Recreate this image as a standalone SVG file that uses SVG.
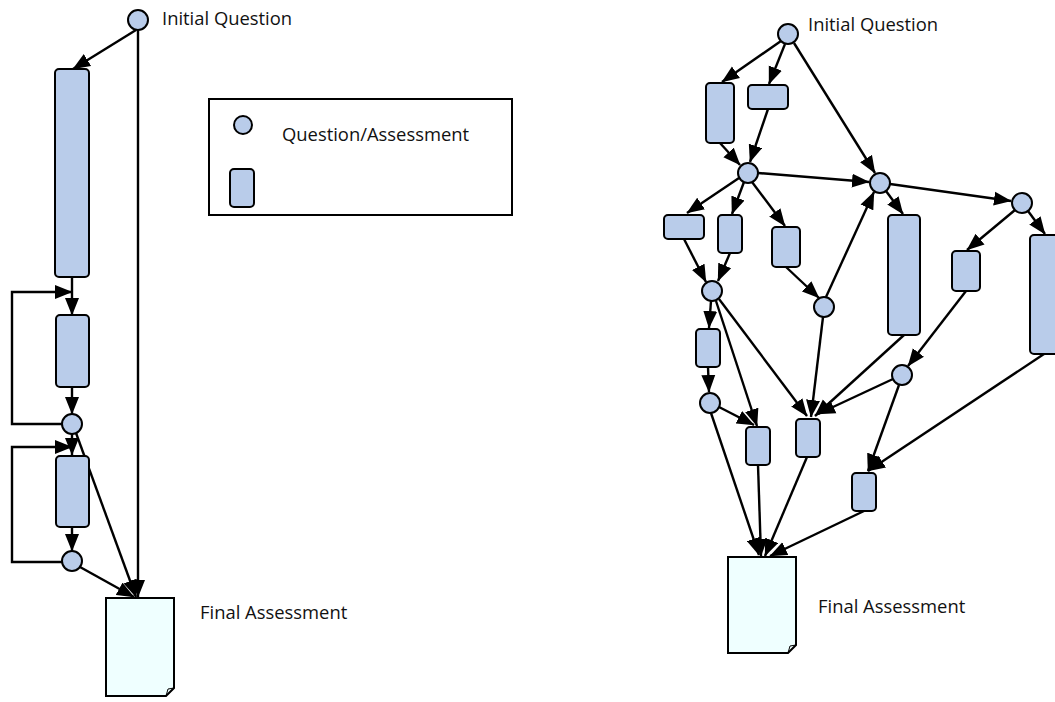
<svg xmlns="http://www.w3.org/2000/svg" width="1055" height="702" viewBox="0 0 1055 702">
<defs>
<marker id="ah" markerUnits="userSpaceOnUse" markerWidth="18" markerHeight="15" refX="17" refY="7.5" orient="auto" viewBox="0 0 18 15">
<path d="M0,0.5 L17.5,7.5 L0,14.5 z" fill="#000"/>
</marker>
<style>
.n{fill:#B9CCEA;stroke:#000;stroke-width:2}
.doc{fill:#EFFFFF;stroke:#000;stroke-width:2}
.e{fill:none;stroke:#000;stroke-width:2.4;marker-end:url(#ah)}
.l{fill:none;stroke:#000;stroke-width:1}
.t{font-family:"Open Sans","Liberation Sans",sans-serif;font-size:18.4px;fill:#111}
</style>
</defs>
<rect width="1055" height="702" fill="#fff"/>

<g id="legend">
<rect x="209" y="99" width="303" height="116" fill="#fff" stroke="#000" stroke-width="2"/>
<circle class="n" cx="243" cy="125" r="9"/>
<rect class="n" x="230" y="169" width="24" height="38" rx="4"/>
<text class="t" x="282" y="141">Question/Assessment</text>
</g>

<g id="connectors">
<path class="e" d="M136,30 L73,69"/>
<path class="e" d="M138,30 V597"/>
<path class="e" d="M72,277 V315"/>
<path class="e" d="M62,424 H12 V292 H72"/>
<path class="e" d="M72,387 V414"/>
<path class="e" d="M72,434 V455"/>
<path class="e" d="M62,562 H12 V447 H72"/>
<path class="e" d="M72,527 V551"/>
<path class="e" d="M76,433 L136,597"/>
<path class="e" d="M80,567 L134,597"/>

<path class="e" d="M781,41 L722,82"/>
<path class="e" d="M785,44 L769,84"/>
<path class="e" d="M794,43 L875,173"/>
<path class="e" d="M720,143 L740,165"/>
<path class="e" d="M768,109 L750,162"/>
<path class="e" d="M758,173 L869,182"/>
<path class="e" d="M886,191 L903,214"/>
<path class="e" d="M890,184 L1011,201"/>
<path class="e" d="M1015,210 L967,250"/>
<path class="e" d="M1028,211 L1045,234"/>
<path class="e" d="M739,178 L687,213"/>
<path class="e" d="M744,182 L732,214"/>
<path class="e" d="M752,182 L785,226"/>
<path class="e" d="M684,239 L706,282"/>
<path class="e" d="M730,253 L718,281"/>
<path class="e" d="M786,267 L819,298"/>
<path class="e" d="M826,297 L874,192"/>
<path class="e" d="M711,301 L709,328"/>
<path class="e" d="M708,367 L709,392"/>
<path class="e" d="M716,301 L757,426"/>
<path class="e" d="M719,299 L807,416"/>
<path class="e" d="M823,317 L811,417"/>
<path class="e" d="M904,335 L815,416"/>
<path class="e" d="M893,379 L818,414"/>
<path class="e" d="M966,291 L908,366"/>
<path class="e" d="M719,407 L754,425"/>
<path class="e" d="M711,413 L759,555"/>
<path class="e" d="M758,465 L761,556"/>
<path class="e" d="M807,457 L765,556"/>
<path class="e" d="M864,511 L770,556"/>
<path class="e" d="M1044,354 L868,471"/>
<path class="e" d="M899,385 L868,471"/>
</g>

<g id="left-initial"><circle class="n" cx="138" cy="20" r="10"/><text class="t" x="162" y="25">Initial Question</text></g>
<g id="left-r1"><rect class="n" x="55" y="69" width="34" height="208" rx="4"/></g>
<g id="left-r2"><rect class="n" x="56" y="315" width="33" height="72" rx="4"/></g>
<g id="left-q1"><circle class="n" cx="72" cy="424" r="10"/></g>
<g id="left-r3"><rect class="n" x="56" y="456" width="33" height="71" rx="4"/></g>
<g id="left-q2"><circle class="n" cx="72" cy="561" r="10"/></g>
<g id="left-final">
<path class="doc" d="M106,598 H174 V688 L166,696 H106 Z"/>
<path class="l" d="M174,688 L168,689 L166,696"/>
<text class="t" x="200" y="619">Final Assessment</text>
</g>

<g id="r-initial"><circle class="n" cx="788" cy="34" r="10"/><text class="t" x="808" y="31">Initial Question</text></g>
<g id="r-a"><rect class="n" x="706" y="83" width="28" height="60" rx="4"/></g>
<g id="r-b"><rect class="n" x="748" y="85" width="40" height="24" rx="4"/></g>
<g id="r-c1"><circle class="n" cx="748" cy="173" r="10"/></g>
<g id="r-c2"><circle class="n" cx="880" cy="183" r="10"/></g>
<g id="r-c3"><circle class="n" cx="1022" cy="203" r="10"/></g>
<g id="r-d"><rect class="n" x="664" y="215" width="40" height="24" rx="4"/></g>
<g id="r-e"><rect class="n" x="718" y="215" width="24" height="38" rx="4"/></g>
<g id="r-f"><rect class="n" x="772" y="227" width="28" height="40" rx="4"/></g>
<g id="r-c4"><circle class="n" cx="824" cy="307" r="10"/></g>
<g id="r-g"><rect class="n" x="888" y="215" width="32" height="120" rx="4"/></g>
<g id="r-h"><rect class="n" x="952" y="251" width="28" height="40" rx="4"/></g>
<g id="r-i"><rect class="n" x="1030" y="235" width="32" height="119" rx="4"/></g>
<g id="r-c5"><circle class="n" cx="712" cy="291" r="10"/></g>
<g id="r-j"><rect class="n" x="696" y="329" width="24" height="38" rx="4"/></g>
<g id="r-c6"><circle class="n" cx="710" cy="403" r="10"/></g>
<g id="r-k"><rect class="n" x="746" y="427" width="24" height="38" rx="4"/></g>
<g id="r-l"><rect class="n" x="796" y="419" width="24" height="38" rx="4"/></g>
<g id="r-c7"><circle class="n" cx="902" cy="375" r="10"/></g>
<g id="r-m"><rect class="n" x="852" y="473" width="24" height="38" rx="4"/></g>
<g id="r-final">
<path class="doc" d="M728,557 H796 V645 L788,653 H728 Z"/>
<path class="l" d="M796,645 L790,646 L788,653"/>
<text class="t" x="818" y="613">Final Assessment</text>
</g>
</svg>
